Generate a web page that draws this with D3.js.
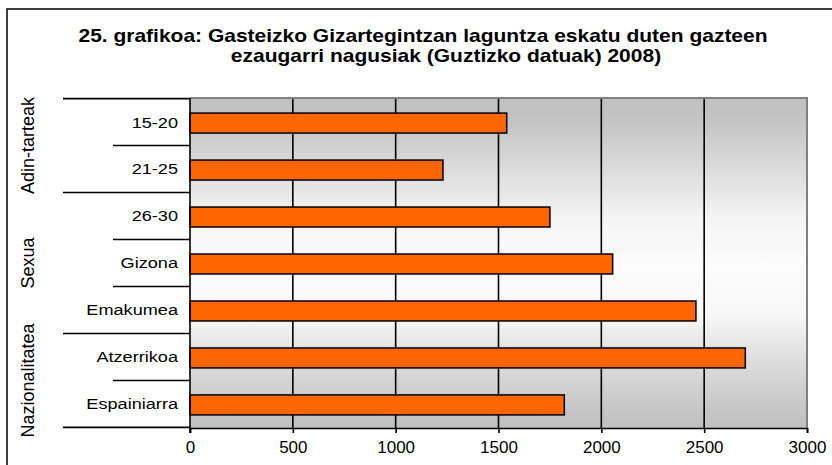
<!DOCTYPE html>
<html>
<head>
<meta charset="utf-8">
<script src="https://cdn.jsdelivr.net/npm/d3@7"></script>
<style>
  body { margin: 0; background: #fff; }
  svg text { font-family: 'Liberation Sans', Arial, sans-serif; fill: #000; }
</style>
</head>
<body>
<svg id="chart" width="832" height="465"></svg>
<script>
const titleLines = [
  '25. grafikoa: Gasteizko Gizartegintzan laguntza eskatu duten gazteen',
  'ezaugarri nagusiak (Guztizko datuak) 2008)'
];
const categories = ['15-20', '21-25', '26-30', 'Gizona', 'Emakumea', 'Atzerrikoa', 'Espainiarra'];
const values = [1540, 1230, 1750, 2055, 2460, 2700, 1820];
const groupNames = ['Adin-tarteak', 'Sexua', 'Nazionalitatea'];
const groupSizes = [2, 3, 2];
const xTicks = [0, 500, 1000, 1500, 2000, 2500, 3000];

const svg = d3.select('#chart');
const margin = { top: 98, right: 25, bottom: 37, left: 190 };
const width = +svg.attr('width') - margin.left - margin.right;
const height = +svg.attr('height') - margin.top - margin.bottom;

// outer frame (only top and left are visible in the picture)
svg.append('path')
  .attr('d', 'M7,465 V9 H832')
  .attr('fill', 'none')
  .attr('stroke', '#000')
  .attr('stroke-width', 1.5);

// title (the original text is stretched sideways)
svg.append('g').selectAll('text')
  .data(titleLines)
  .enter().append('text')
    .attr('transform', (d, i) => `translate(${i === 0 ? 423 : 446},${42 + i * 20}) scale(1.2,1)`)
    .attr('text-anchor', 'middle')
    .attr('font-size', 17.5)
    .attr('font-weight', 'bold')
    .text(d => d);

const x = d3.scaleLinear()
  .domain([0, 3000])
  .range([0, width]);

const y = d3.scaleBand()
  .domain(categories)
  .range([0, height])
  .paddingInner(0.575)
  .paddingOuter(0.3);

const g = svg.append('g')
  .attr('transform', `translate(${margin.left},${margin.top})`);

// background gradient
const grad = svg.append('defs').append('linearGradient')
  .attr('id', 'bg')
  .attr('x1', 0).attr('y1', 0).attr('x2', 0).attr('y2', 1);
[[0, '#c0c0c0'], [0.07, '#c4c4c4'], [0.22, '#dcdcdc'], [0.36, '#f4f4f4'],
 [0.5, '#fcfcfc'], [0.65, '#f8f8f8'], [0.78, '#e0e0e0'], [0.93, '#c8c8c8'], [1, '#c0c0c0']]
  .forEach(s => grad.append('stop').attr('offset', s[0]).attr('stop-color', s[1]));

g.append('rect')
  .attr('width', width)
  .attr('height', height)
  .attr('fill', 'url(#bg)');

// grid
g.append('g')
  .selectAll('line')
  .data(xTicks.filter(d => d > 0 && d < 3000))
  .enter().append('line')
    .attr('x1', d => x(d)).attr('x2', d => x(d))
    .attr('y1', 0).attr('y2', height)
    .attr('stroke', '#000')
    .attr('stroke-width', 1.6);

// plot border top/right
g.append('path')
  .attr('d', `M0,0 H${width} V${height}`)
  .attr('fill', 'none')
  .attr('stroke', '#808080')
  .attr('stroke-width', 2);

// bars
g.append('g')
  .selectAll('rect')
  .data(values)
  .enter().append('rect')
    .attr('x', x(0))
    .attr('y', (d, i) => y(categories[i]) + 1)
    .attr('width', d => x(d) - x(0))
    .attr('height', y.bandwidth())
    .attr('fill', '#ff6600')
    .attr('stroke', '#000')
    .attr('stroke-width', 1.5);

// x axis
const xAxis = g.append('g')
  .attr('transform', `translate(0,${height})`)
  .call(d3.axisBottom(x).tickValues(xTicks).tickFormat(d3.format('d')).tickSize(5).tickPadding(8));
xAxis.select('.domain').attr('stroke', '#000').attr('stroke-width', 1.6);
xAxis.selectAll('.tick line').attr('stroke-width', 1.6);
xAxis.selectAll('.tick text')
  .attr('font-size', 17)
  .attr('font-family', "'Liberation Sans', Arial, sans-serif");

// y axis line
g.append('line')
  .attr('x1', 0).attr('x2', 0)
  .attr('y1', 0).attr('y2', height + 5)
  .attr('stroke', '#000')
  .attr('stroke-width', 1.6);

// category labels
const step = y.step();
const top0 = y(categories[0]) - step * y.paddingInner() / 2;
g.append('g')
  .selectAll('text')
  .data(categories)
  .enter().append('text')
    .attr('transform', (d, i) => `translate(-12,${top0 + step * (i + 0.5)}) scale(1.17,1)`)
    .attr('dy', '0.35em')
    .attr('text-anchor', 'end')
    .attr('font-size', 15.5)
    .text(d => d);

// boundary ticks between categories: long at group edges, short inside
const bounds = d3.range(categories.length + 1);
const groupEdges = [0].concat(Array.from(d3.cumsum(groupSizes)));
g.append('g')
  .selectAll('line')
  .data(bounds)
  .enter().append('line')
    .attr('x1', d => groupEdges.includes(d) ? -127 : -77)
    .attr('x2', 0)
    .attr('y1', d => top0 + step * d)
    .attr('y2', d => top0 + step * d)
    .attr('stroke', '#000')
    .attr('stroke-width', 1.6);

// group labels
g.append('g')
  .selectAll('text')
  .data(groupNames)
  .enter().append('text')
    .attr('transform', (d, i) => {
      const c = top0 + step * (groupEdges[i] + groupEdges[i + 1]) / 2;
      return `translate(-162,${c}) rotate(-90)`;
    })
    .attr('dy', '0.35em')
    .attr('text-anchor', 'middle')
    .attr('font-size', 18)
    .text(d => d);
</script>
</body>
</html>
